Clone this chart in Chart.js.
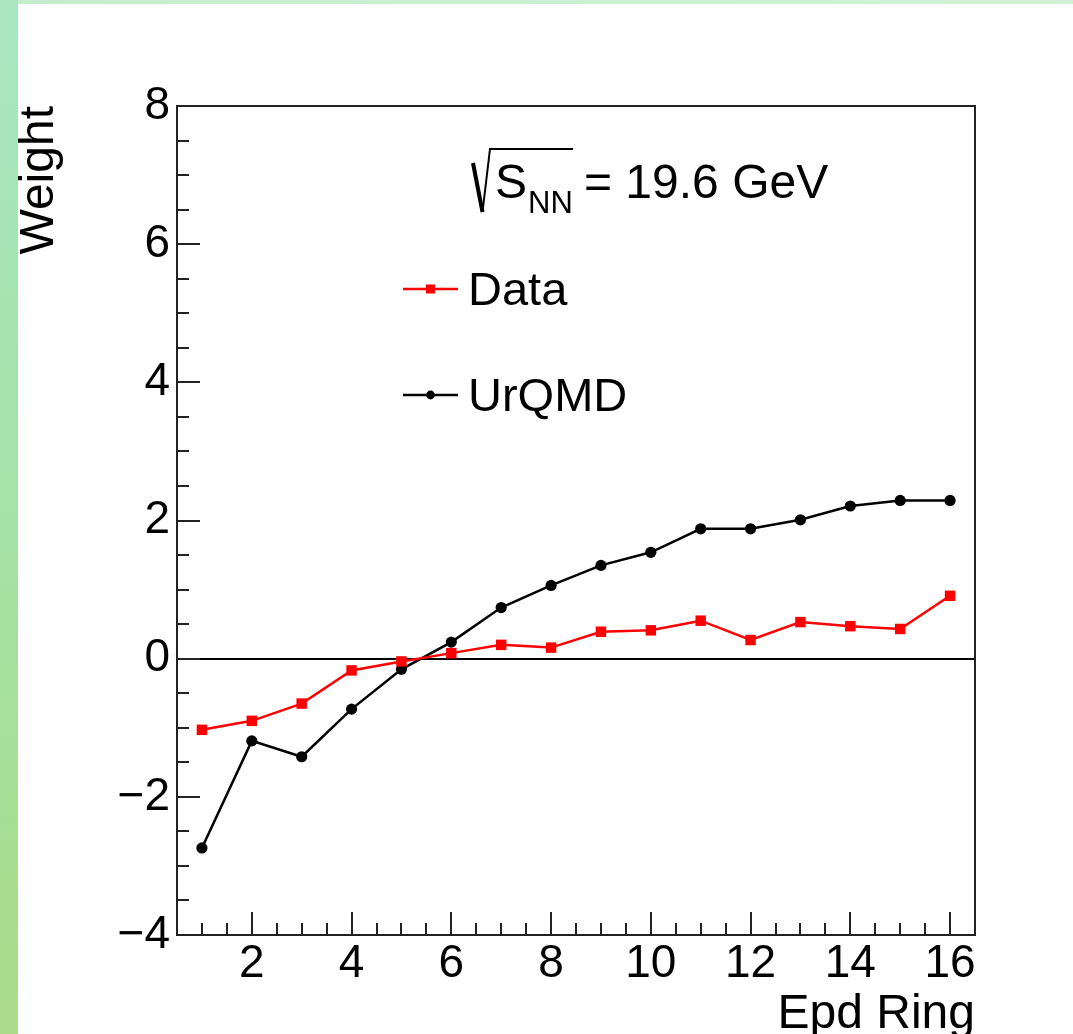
<!DOCTYPE html>
<html>
<head>
<meta charset="utf-8">
<script src="https://cdn.jsdelivr.net/npm/chart.js@4/dist/chart.umd.min.js"></script>
<style>
  html, body { margin: 0; padding: 0; background: #fff; overflow: hidden; }
  canvas { display: block; }
</style>
</head>
<body>
<canvas id="c" width="1073" height="1034"></canvas>
<script>
// EPD ring weights: measured data vs. UrQMD model
const rings = [1, 2, 3, 4, 5, 6, 7, 8, 9, 10, 11, 12, 13, 14, 15, 16];
const dataWeights  = [-1.03, -0.90, -0.65, -0.17, -0.04, 0.08, 0.20, 0.16, 0.39, 0.41, 0.55, 0.27, 0.53, 0.47, 0.43, 0.91];
const urqmdWeights = [-2.74, -1.19, -1.42, -0.73, -0.155, 0.24, 0.74, 1.06, 1.35, 1.54, 1.88, 1.88, 2.01, 2.21, 2.29, 2.29];

const xMajorTicks = [2, 4, 6, 8, 10, 12, 14, 16];
const yMajorTicks = [-4, -2, 0, 2, 4, 6, 8];
const minorStep = 0.5;
const xLimits = [0.5, 16.5];
const yLimits = [-4, 8];

const FONT = '"Liberation Sans", Arial, Helvetica, sans-serif';
const INK = '#000';
const RED = '#ff0000';

function fmt(v) {
  return v < 0 ? '\u2212' + Math.abs(v) : String(v);
}

function allSteps(scale) {
  const t = [];
  for (let v = scale.min; v <= scale.max + 1e-9; v += minorStep) t.push({ value: v });
  scale.ticks = t;
}

// page background with the green border strips
const backdrop = {
  id: 'backdrop',
  beforeDraw(chart) {
    const { ctx, width, height } = chart;
    ctx.save();
    ctx.fillStyle = '#fff';
    ctx.fillRect(0, 0, width, height);
    const side = ctx.createLinearGradient(0, 0, 0, height);
    side.addColorStop(0, '#aae6c2');
    side.addColorStop(0.5, '#a4e2a6');
    side.addColorStop(1, '#aadc8a');
    ctx.fillStyle = side;
    ctx.fillRect(0, 0, 18, height);
    const top = ctx.createLinearGradient(0, 0, width, 0);
    top.addColorStop(0, '#c3eecd');
    top.addColorStop(1, '#d2f2d6');
    ctx.fillStyle = top;
    ctx.fillRect(18, 0, width - 18, 4);
    ctx.restore();
  }
};

// frame box and inward tick marks
const frame = {
  id: 'frame',
  beforeDatasetsDraw(chart) {
    const { ctx, chartArea: a, scales: { x, y } } = chart;
    ctx.save();
    ctx.strokeStyle = '#222';
    ctx.lineWidth = 2;
    ctx.beginPath();
    x.ticks.forEach(t => {
      if (t.value <= x.min || t.value >= x.max) return;
      const px = Math.round(x.getPixelForValue(t.value));
      const len = xMajorTicks.includes(t.value) ? 23 : 12;
      ctx.moveTo(px, a.bottom);
      ctx.lineTo(px, a.bottom - len);
    });
    y.ticks.forEach(t => {
      if (t.value <= y.min || t.value >= y.max) return;
      const py = Math.round(y.getPixelForValue(t.value));
      const len = yMajorTicks.includes(t.value) ? 23 : 12;
      ctx.moveTo(a.left, py);
      ctx.lineTo(a.left + len, py);
    });
    ctx.stroke();
    ctx.strokeRect(a.left, a.top, a.right - a.left, a.bottom - a.top);
    ctx.restore();
  }
};

// energy label and legend inside the frame
const notes = {
  id: 'notes',
  afterDraw(chart) {
    const ctx = chart.ctx;
    ctx.save();
    ctx.fillStyle = INK;
    ctx.strokeStyle = INK;
    ctx.textBaseline = 'alphabetic';
    ctx.textAlign = 'left';

    // radical sign over S_NN
    ctx.lineCap = 'butt';
    ctx.lineJoin = 'miter';
    ctx.lineWidth = 4;
    ctx.beginPath();
    ctx.moveTo(473, 163);
    ctx.lineTo(482.5, 212);
    ctx.stroke();
    ctx.lineWidth = 2;
    ctx.beginPath();
    ctx.moveTo(482.5, 212);
    ctx.lineTo(490, 149);
    ctx.lineTo(573, 149);
    ctx.stroke();

    ctx.font = '48px ' + FONT;
    ctx.fillText('S', 495, 198);
    ctx.font = '31px ' + FONT;
    ctx.fillText('NN', 528, 213);
    ctx.font = '48px ' + FONT;
    ctx.fillText('= 19.6 GeV', 584, 198);

    // legend entries
    const rows = [
      { ds: chart.data.datasets[0], y: 289, textY: 305 },
      { ds: chart.data.datasets[1], y: 395, textY: 411 }
    ];
    rows.forEach(r => {
      ctx.strokeStyle = r.ds.borderColor;
      ctx.fillStyle = r.ds.borderColor;
      ctx.lineWidth = 2.5;
      ctx.beginPath();
      ctx.moveTo(403, r.y);
      ctx.lineTo(458, r.y);
      ctx.stroke();
      if (r.ds.pointStyle === 'rect') {
        ctx.fillRect(426, r.y - 4.5, 9, 9);
      } else {
        ctx.beginPath();
        ctx.arc(430.5, r.y, 4.4, 0, Math.PI * 2);
        ctx.fill();
      }
      ctx.fillStyle = INK;
      ctx.font = '47px ' + FONT;
      ctx.fillText(r.ds.label, 468, r.textY);
    });
    ctx.restore();
  }
};

new Chart(document.getElementById('c'), {
  type: 'line',
  data: {
    datasets: [
      {
        label: 'Data',
        data: rings.map((r, i) => ({ x: r, y: dataWeights[i] })),
        borderColor: RED,
        backgroundColor: RED,
        borderWidth: 2.5,
        pointStyle: 'rect',
        pointRadius: 7.4,
        pointBorderWidth: 0,
        tension: 0,
        fill: false
      },
      {
        label: 'UrQMD',
        data: rings.map((r, i) => ({ x: r, y: urqmdWeights[i] })),
        borderColor: INK,
        backgroundColor: INK,
        borderWidth: 2.5,
        pointStyle: 'circle',
        pointRadius: 5.6,
        pointBorderWidth: 0,
        tension: 0,
        fill: false
      }
    ]
  },
  options: {
    responsive: false,
    devicePixelRatio: 1,
    animation: false,
    layout: { padding: { left: 0, top: 106, right: 98, bottom: 0 } },
    plugins: { legend: { display: false }, tooltip: { enabled: false } },
    scales: {
      x: {
        type: 'linear',
        min: xLimits[0],
        max: xLimits[1],
        afterBuildTicks: allSteps,
        afterFit(s) { s.height = 99; },
        border: { display: false },
        grid: { display: false, drawTicks: false },
        ticks: {
          autoSkip: false,
          maxRotation: 0,
          minRotation: 0,
          padding: 6,
          color: INK,
          font: { family: FONT, size: 46, lineHeight: 1 },
          callback: v => (xMajorTicks.includes(v) ? fmt(v) : '')
        },
        title: {
          display: true,
          text: 'Epd Ring',
          align: 'end',
          color: INK,
          padding: { top: 0, bottom: 0 },
          font: { family: FONT, size: 48, lineHeight: 0.8 }
        }
      },
      y: {
        type: 'linear',
        min: yLimits[0],
        max: yLimits[1],
        afterBuildTicks: allSteps,
        afterFit(s) { s.width = 177; },
        border: { display: false },
        grid: {
          drawTicks: false,
          lineWidth: 2,
          color: c => (c.tick && c.tick.value === 0 ? INK : 'rgba(0,0,0,0)')
        },
        ticks: {
          autoSkip: false,
          padding: 7,
          color: INK,
          font: { family: FONT, size: 46 },
          callback: v => (yMajorTicks.includes(v) ? fmt(v) : '')
        },
        title: {
          display: true,
          text: 'Weight',
          align: 'end',
          color: INK,
          padding: { top: 13, bottom: 0 },
          font: { family: FONT, size: 48, lineHeight: 1.1 }
        }
      }
    }
  },
  plugins: [backdrop, frame, notes]
});
</script>
</body>
</html>
